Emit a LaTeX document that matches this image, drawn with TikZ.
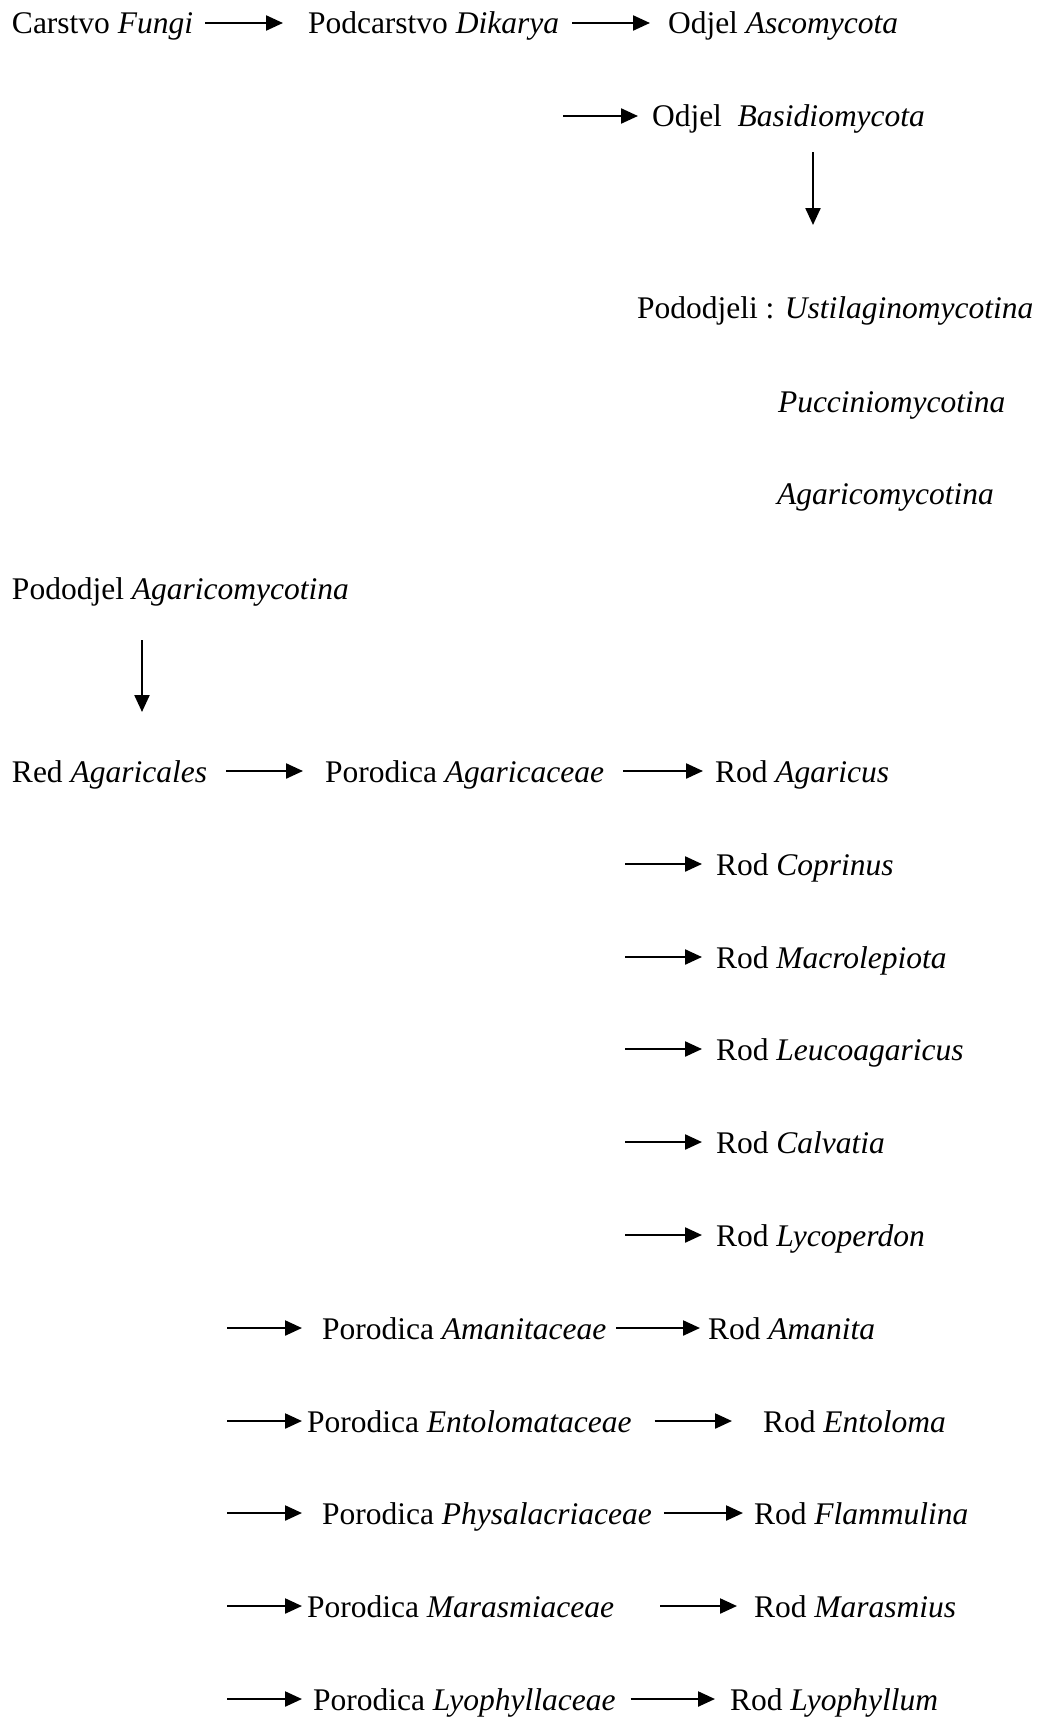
\documentclass[tikz,border=0pt]{standalone}
\usepackage{fontspec}
\setmainfont{Liberation Serif}
\usetikzlibrary{arrows.meta,calc}
\begin{document}
\begin{tikzpicture}[x=1pt,y=-1pt,
  lbl/.style={anchor=base west, inner sep=0pt, outer sep=0pt,
              text height=28pt, text depth=6pt,
              font=\fontsize{31.5}{38}\selectfont},
  arr/.style={line width=2.3pt, -{Triangle[length=17pt,width=15pt]}}]
\path[use as bounding box] (0,0) rectangle (1039,1718);

% top part
\node[lbl] (fungi) at (12,34) {Carstvo \textit{Fungi}};
\node[lbl] (dik) at (308,34) {Podcarstvo \textit{Dikarya}};
\node[lbl] (asco) at (668,34) {Odjel \textit{Ascomycota}};
\node[lbl] (basid) at (652,127) {Odjel\ \ \textit{Basidiomycota}};
\node[lbl] (podj) at (637,318) {Pododjeli : \textit{Ustilaginomycotina}};
\node[lbl] (pucc) at (778,412) {\textit{Pucciniomycotina}};
\node[lbl] (agm) at (777,504) {\textit{Agaricomycotina}};
\node[lbl] (podA) at (12,599) {Pododjel \textit{Agaricomycotina}};

\draw[arr] ($(fungi.east)+(12,0)$) -- ($(dik.west)+(-25,0)$);
\draw[arr] ($(dik.east)+(13,0)$) -- ($(asco.west)+(-18,0)$);
\coordinate (bstart) at ($(basid.west)+(-89,0)$);
\draw[arr] (bstart) -- ($(basid.west)+(-14,0)$);

\coordinate (vxa) at (813,0);
\draw[arr] ($(basid.south -| vxa)+(0,19)$) -- ($(podj.north -| vxa)+(0,-65)$);
\coordinate (vxb) at (142,0);

% order row
\node[lbl] (red) at (12,782) {Red \textit{Agaricales}};
\node[lbl] (fAgc) at (325,782) {Porodica \textit{Agaricaceae}};
\node[lbl] (gAgaricus) at (715,782) {Rod \textit{Agaricus}};
\draw[arr] ($(podA.south -| vxb)+(0,35)$) -- ($(red.north -| vxb)+(0,-42)$);
\draw[arr] ($(red.east)+(19,0)$) -- ($(fAgc.west)+(-22,0)$);
\draw[arr] ($(fAgc.east)+(19,0)$) -- ($(gAgaricus.west)+(-12,0)$);

% genera of Agaricaceae
\node[lbl] (gCop) at (716,875) {Rod \textit{Coprinus}};
\node[lbl] (gMac) at (716,968) {Rod \textit{Macrolepiota}};
\node[lbl] (gLeu) at (716,1060) {Rod \textit{Leucoagaricus}};
\node[lbl] (gCal) at (716,1153) {Rod \textit{Calvatia}};
\node[lbl] (gLyc) at (716,1246) {Rod \textit{Lycoperdon}};
\foreach \g in {gCop,gMac,gLeu,gCal,gLyc}{
  \draw[arr] ($(\g.west)+(-91,0)$) -- ($(\g.west)+(-14,0)$);
}

% other families
\node[lbl] (fAma) at (322,1339) {Porodica \textit{Amanitaceae}};
\node[lbl] (gAma) at (708,1339) {Rod \textit{Amanita}};
\node[lbl] (fEnt) at (307,1432) {Porodica \textit{Entolomataceae}};
\node[lbl] (gEnt) at (763,1432) {Rod \textit{Entoloma}};
\node[lbl] (fPhy) at (322,1524) {Porodica \textit{Physalacriaceae}};
\node[lbl] (gFla) at (754,1524) {Rod \textit{Flammulina}};
\node[lbl] (fMar) at (307,1617) {Porodica \textit{Marasmiaceae}};
\node[lbl] (gMar) at (754,1617) {Rod \textit{Marasmius}};
\node[lbl] (fLyo) at (313,1710) {Porodica \textit{Lyophyllaceae}};
\node[lbl] (gLyo) at (730,1710) {Rod \textit{Lyophyllum}};

\coordinate (fxa) at (227,0);
\coordinate (fxb) at (302,0);
\foreach \f in {fAma,fEnt,fPhy,fMar,fLyo}{
  \draw[arr] (\f.west -| fxa) -- (\f.west -| fxb);
}
\draw[arr] ($(fAma.east)+(10,0)$) -- ($(gAma.west)+(-8,0)$);
\draw[arr] ($(fEnt.east)+(23,0)$) -- ($(gEnt.west)+(-31,0)$);
\draw[arr] ($(fPhy.east)+(12,0)$) -- ($(gFla.west)+(-11,0)$);
\draw[arr] ($(fMar.east)+(46,0)$) -- ($(gMar.west)+(-17,0)$);
\draw[arr] ($(fLyo.east)+(15,0)$) -- ($(gLyo.west)+(-15,0)$);
\end{tikzpicture}
\end{document}
